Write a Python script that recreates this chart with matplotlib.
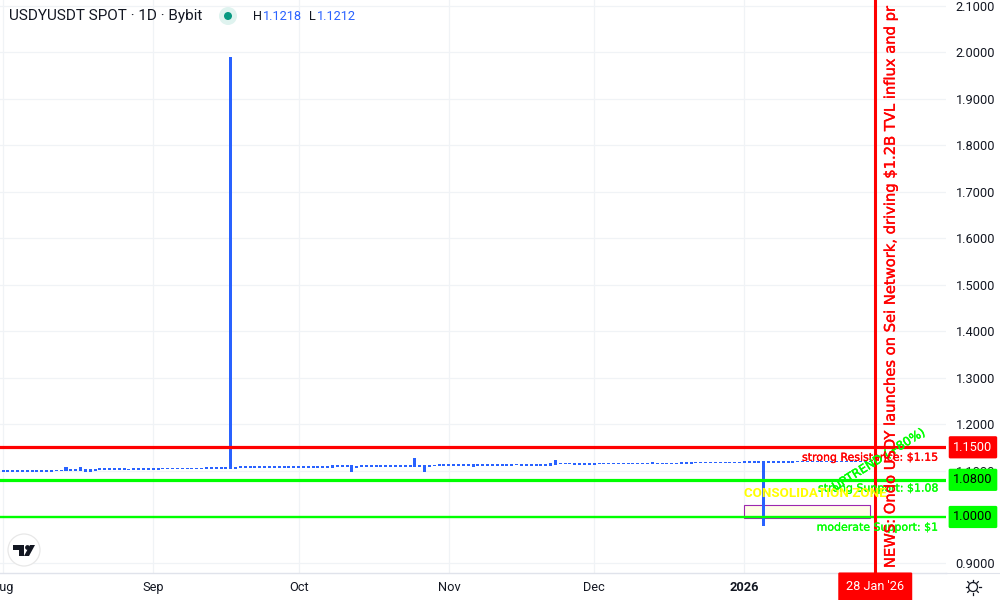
import matplotlib
matplotlib.use("Agg")
import matplotlib.pyplot as plt
import matplotlib.patheffects as pe
from matplotlib.patches import Rectangle, Circle, Polygon

# ---- data (one entry per daily bar, starting 1 Aug) ----
lows = [
    1.0978, 1.0978, 1.0978, 1.0978, 1.0978, 1.0978, 1.0978, 1.0978, 1.0978, 1.0978, 1.0978,
    1.0995, 1.0995, 1.0997, 1.0997, 1.0997, 1.0997, 1.0976, 1.0976, 1.0997,
    1.1012, 1.1012, 1.1012, 1.1012, 1.1012, 1.1012, 1.1018,
    1.1012, 1.1012, 1.1012, 1.1012, 1.1012, 1.1012,
    1.1035, 1.1035, 1.1035, 1.1035, 1.1035, 1.1035, 1.1035, 1.1035, 1.1035,
    1.1033, 1.1033, 1.1033, 1.1033, 1.1033, 1.1033, 1.1033,
    1.1064, 1.1064, 1.1064, 1.1064, 1.1064, 1.1064,
    1.1055, 1.1055, 1.1055, 1.1055, 1.1055, 1.1055, 1.1055, 1.1055, 1.1055, 1.1055, 1.1055, 1.1055, 1.1055,
    1.1055, 1.1086, 1.1086, 1.1086, 1.0976, 1.1055,
    1.1076, 1.1076, 1.1076, 1.1076, 1.1076, 1.1076, 1.1076, 1.1076, 1.1076, 1.1076, 1.1076,
    1.1076, 1.1076, 1.0976, 1.1076, 1.1100, 1.1098, 1.1108, 1.1098,
    1.1108, 1.1108, 1.1108, 1.1108, 1.1076, 1.1098, 1.1098,
    1.1108, 1.1108, 1.1108, 1.1098, 1.1098, 1.1098, 1.1115,
    1.1098, 1.1098, 1.1098, 1.1098, 1.1098, 1.1098, 1.1098, 1.1120,
    1.1130, 1.1130, 1.1130, 1.1120, 1.1120, 1.1120, 1.1120, 1.1120,
    1.1140, 1.1140, 1.1140, 1.1140, 1.1140, 1.1140, 1.1140, 1.1140, 1.1140, 1.1140, 1.1140,
    1.1141, 1.1148, 1.1148, 1.1148, 1.1148, 1.1148, 1.1141, 1.1141, 1.1141,
    1.1160, 1.1160, 1.1160, 1.1160, 1.1160, 1.1160, 1.1160, 1.1160, 1.1160, 1.1160,
    1.1163, 1.1163, 1.1163, 1.1163, 0.9800,
    1.1163, 1.1163, 1.1163, 1.1163, 1.1163, 1.1163,
    1.1180, 1.1180, 1.1180, 1.1180, 1.1180, 1.1180, 1.1180, 1.1180, 1.1180, 1.1180, 1.1180, 1.1180, 1.1180, 1.1180, 1.1180, 1.1180, 1.1180,
]
highs = [
    1.1012, 1.1012, 1.1012, 1.1012, 1.1012, 1.1012, 1.1012, 1.1012, 1.1012, 1.1012, 1.1012,
    1.1019, 1.1019, 1.1069, 1.1033, 1.1033, 1.1069, 1.1033, 1.1033, 1.1033,
    1.1055, 1.1055, 1.1055, 1.1055, 1.1055, 1.1055, 1.1042,
    1.1055, 1.1055, 1.1055, 1.1055, 1.1055, 1.1055,
    1.1059, 1.1059, 1.1059, 1.1059, 1.1059, 1.1059, 1.1059, 1.1059, 1.1059,
    1.1076, 1.1076, 1.1076, 1.1076, 1.1076, 1.9900, 1.1076,
    1.1088, 1.1088, 1.1088, 1.1088, 1.1088, 1.1088,
    1.1098, 1.1098, 1.1098, 1.1098, 1.1098, 1.1098, 1.1098, 1.1098, 1.1098, 1.1098, 1.1098, 1.1098, 1.1098,
    1.1120, 1.1110, 1.1110, 1.1110, 1.1120, 1.1098,
    1.1120, 1.1120, 1.1120, 1.1120, 1.1120, 1.1120, 1.1120, 1.1120, 1.1120, 1.1120, 1.1120,
    1.1270, 1.1120, 1.1120, 1.1120, 1.1124, 1.1141, 1.1132, 1.1141,
    1.1132, 1.1132, 1.1132, 1.1132, 1.1141, 1.1141, 1.1141,
    1.1132, 1.1132, 1.1132, 1.1141, 1.1141, 1.1141, 1.1139,
    1.1141, 1.1141, 1.1141, 1.1141, 1.1141, 1.1141, 1.1163, 1.1227,
    1.1154, 1.1154, 1.1154, 1.1163, 1.1163, 1.1163, 1.1163, 1.1163,
    1.1164, 1.1164, 1.1164, 1.1164, 1.1164, 1.1164, 1.1164, 1.1164, 1.1164, 1.1164, 1.1164,
    1.1184, 1.1172, 1.1172, 1.1172, 1.1172, 1.1172, 1.1184, 1.1184, 1.1184,
    1.1184, 1.1184, 1.1184, 1.1184, 1.1184, 1.1184, 1.1184, 1.1184, 1.1184, 1.1184,
    1.1206, 1.1206, 1.1206, 1.1206, 1.1215,
    1.1206, 1.1206, 1.1206, 1.1206, 1.1206, 1.1206,
    1.1204, 1.1204, 1.1204, 1.1204, 1.1204, 1.1204, 1.1204, 1.1204, 1.1204, 1.1204, 1.1204, 1.1204, 1.1204, 1.1204, 1.1204, 1.1204, 1.1204,
]
days = list(range(len(lows)))

month_days = [0, 31, 61, 92, 122, 153]
month_labels = ["Aug", "Sep", "Oct", "Nov", "Dec", "2026"]
price_ticks = [0.9, 1.1, 1.2, 1.3, 1.4, 1.5, 1.6, 1.7, 1.8, 1.9, 2.0, 2.1]
grid_levels = [0.9, 1.0, 1.1, 1.2, 1.3, 1.4, 1.5, 1.6, 1.7, 1.8, 1.9, 2.0, 2.1]
levels = [1.15, 1.08, 1.00]
level_colors = ["#ff0000", "#00ff00", "#00ff00"]
level_widths = [2.3, 2.3, 1.7]
level_text_colors = ["#ffffff", "#000000", "#000000"]
level_names = ["strong Resistance: $1.15", "strong Support: $1.08", "moderate Support: $1"]
name_y = [1.1275, 1.0612, 0.9770]
event_day = 180
zone_days = (153, 179)
zone_prices = (0.9975, 1.025)

BLUE = "#2962ff"; INK = "#131722"; GRID = "#f0f3f6"
plt.rcParams["font.family"] = ["Roboto", "DejaVu Sans"]

fig = plt.figure(figsize=(10, 6), dpi=100, facecolor="white")
ax = fig.add_axes([0, 1 - 573 / 600, 0.946, 573 / 600])
ax.set_xlim(-0.62, 194.6)
ax.set_ylim(0.8794, 2.1130)
for s in ["top", "left", "right"]:
    ax.spines[s].set_visible(False)
ax.spines["bottom"].set_color("#e0e3eb")
ax.spines["bottom"].set_linewidth(1.0)
ax.set_xticks(month_days)
ax.set_xticklabels(month_labels, fontsize=9.2, color=INK)
ax.get_xticklabels()[-1].set_fontweight("bold")
ax.tick_params(axis="x", length=0, pad=5.5)
ax.yaxis.tick_right()
ax.set_yticks(price_ticks)
ax.set_yticklabels([f"{v:.4f}" for v in price_ticks], fontsize=9.2, color=INK)
ax.tick_params(axis="y", length=0, pad=7)
for g in grid_levels:
    ax.axhline(g, color=GRID, lw=0.9, zorder=0)
for m in month_days:
    ax.axvline(m, color=GRID, lw=0.9, zorder=0)

ax.bar(days, [h - l for h, l in zip(highs, lows)], bottom=lows, width=0.62, color=BLUE, lw=0, zorder=3)

for lv, c, w in zip(levels, level_colors, level_widths):
    ax.axhline(lv, color=c, lw=w, zorder=4)

ax.add_patch(Rectangle((zone_days[0], zone_prices[0]), zone_days[1] - zone_days[0],
                       zone_prices[1] - zone_prices[0], fc="#fffde7", ec="#9c27b0", lw=0.8, zorder=2.5))
ax.axvline(event_day, color="#ff0000", lw=2.2, zorder=5)

mono = ["DejaVu Sans"]
for name, y, c in zip(level_names, name_y, ["#ff0000", "#00ff00", "#00ff00"]):
    ax.text(0.9925, y, name, transform=ax.get_yaxis_transform(), ha="right", va="center",
            color=c, fontsize=7.9, family=mono, zorder=6,
            path_effects=[pe.withStroke(linewidth=0.2, foreground=c)])
ax.text(153, 1.0515, "CONSOLIDATION ZONE", color="#ffff00", fontsize=9.6, family=["Roboto"],
        fontweight="bold", va="center", ha="left", zorder=6)
ax.text(180.6, 1.1227, "UPTREND (+80%)", color="#00ff00", fontsize=8.6, family=mono, rotation=32,
        rotation_mode="anchor", va="center", ha="center", zorder=6,
        path_effects=[pe.withStroke(linewidth=0.35, foreground="#00ff00")])
ax.text(183.1, 0.890, "NEWS: Ondo USDY launches on Sei Network, driving $1.2B TVL influx and pr",
        color="#ff0000", fontsize=10.6, family=mono, rotation=90, va="bottom", ha="center", zorder=6,
        clip_on=True, path_effects=[pe.withStroke(linewidth=0.25, foreground="#ff0000")])

# price labels on the scale
for lv, c, tc in zip(levels, level_colors, level_text_colors):
    ax.text(1.0285, lv, f"{lv:.4f}", transform=ax.get_yaxis_transform(), ha="center", va="center",
            color=tc, fontsize=9.2, zorder=8, clip_on=False,
            bbox=dict(boxstyle="round,pad=0.36,rounding_size=0.12", fc=c, ec="none"))
# time label
ax.annotate("28 Jan '26", xy=(event_day, 0), xycoords=ax.get_xaxis_transform(), xytext=(0, -10),
            textcoords="offset points", va="center", ha="center", color="white", fontsize=9.2,
            annotation_clip=False, zorder=8,
            bbox=dict(boxstyle="round,pad=0.62,rounding_size=0.1", fc="#ff0000", ec="none"))

# header
def px(x, y):
    return x / 1000, 1 - y / 600
fig.text(*px(9, 16), "USDYUSDT SPOT · 1D · Bybit", fontsize=11, color=INK, va="center")
fig.text(*px(253, 16), "H", fontsize=9.2, color=INK, va="center")
fig.text(*px(263, 16), "1.1218", fontsize=9.2, color=BLUE, va="center")
fig.text(*px(309, 16), "L", fontsize=9.2, color=INK, va="center")
fig.text(*px(317, 16), "1.1212", fontsize=9.2, color=BLUE, va="center")

# overlay in pixel space for decorative icons
ov = fig.add_axes([0, 0, 1, 1], facecolor="none")
ov.set_xlim(0, 1000); ov.set_ylim(600, 0); ov.axis("off")
ov.plot([946, 1000], [572.5, 572.5], color="#e0e3eb", lw=0.8)
ov.add_patch(Circle((228, 16), 9, fc="#dff3ef", ec="none"))
ov.add_patch(Circle((228, 16), 4, fc="#089981", ec="none"))
ov.add_patch(Circle((24, 550), 16, fc="white", ec="#e8e8e8", lw=0.9))
ov.add_patch(Polygon([(13, 545), (24, 545), (24, 556), (19, 556), (19, 550), (13, 550)], fc=INK, ec="none"))
ov.add_patch(Circle((27.5, 547.5), 2.4, fc=INK, ec="none"))
ov.add_patch(Polygon([(30, 545), (35, 545), (29, 556), (24, 556)], fc=INK, ec="none"))
ov.add_patch(Circle((973, 587), 4.5, fc="none", ec=INK, lw=0.9))
for x0, y0, x1, y1 in [(973, 579.5, 973, 581.5), (973, 592.5, 973, 594.5), (965.5, 587, 967.5, 587), (978.5, 587, 980.5, 587),
                       (967.7, 581.7, 969.1, 583.1), (976.9, 590.9, 978.3, 592.3), (967.7, 592.3, 969.1, 590.9), (976.9, 583.1, 978.3, 581.7)]:
    ov.plot([x0, x1], [y0, y1], color=INK, lw=0.9)

fig.savefig("out.png", dpi=100)
